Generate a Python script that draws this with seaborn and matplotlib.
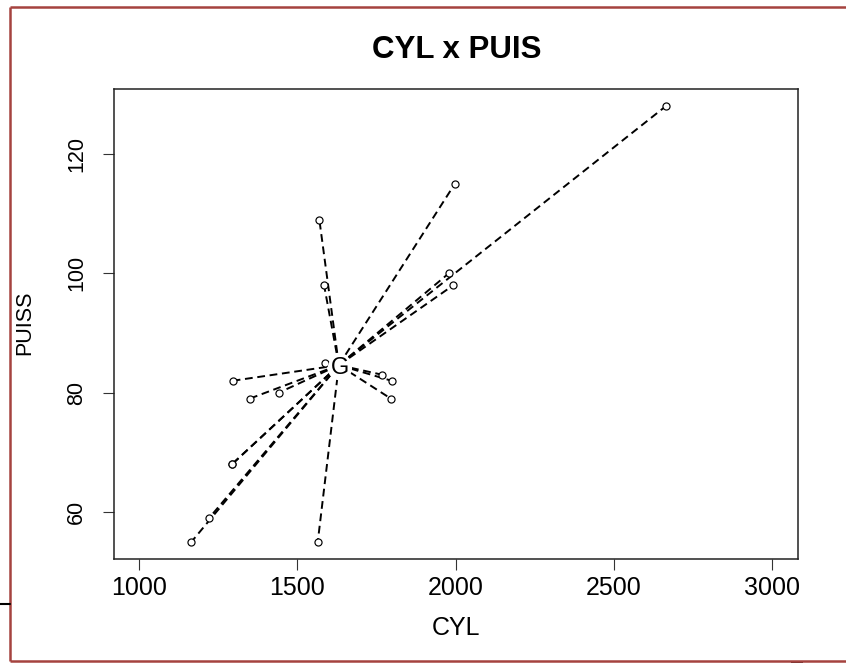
import matplotlib
matplotlib.use("Agg")
import matplotlib.pyplot as plt
import pandas as pd
import seaborn as sns
from matplotlib.lines import Line2D
from matplotlib.patches import Rectangle
from matplotlib.transforms import offset_copy

# Jeu de données "autos" : cylindrée et puissance de 18 modèles
modeles = ["Alfasud TI", "Audi 100", "Simca 1300", "Citroen GS Club", "Fiat 132",
           "Lancia Beta", "Peugeot 504", "Renault 16 TL", "Renault 30",
           "Toyota Corolla", "Alfetta 1.66", "Princess 1800", "Datsun 200L",
           "Taunus 2000", "Rancho", "Mazda 9295", "Opel Rekord", "Lada 1300"]
cyl = [1350, 1588, 1294, 1222, 1585, 1297, 1796, 1565, 2664,
       1166, 1570, 1798, 1998, 1993, 1442, 1769, 1979, 1294]
puis = [79, 85, 68, 59, 98, 82, 79, 55, 128,
        55, 109, 82, 115, 98, 80, 83, 100, 68]
x_ticks = [1000, 1500, 2000, 2500, 3000]
y_ticks = [60, 80, 100, 120]

sns.set_theme(style="white")
plt.rcParams["font.family"] = ["Liberation Sans", "DejaVu Sans"]

W, H = 846, 663
fig = plt.figure(figsize=(W / 100, H / 100), dpi=100)
ax = fig.add_axes([113.5 / W, 1 - 559.3 / H, 684 / W, 470.5 / H])

df = pd.DataFrame({"modele": modeles, "CYL": cyl, "PUISS": puis})
gx, gy = df["CYL"].mean(), df["PUISS"].mean()

# segments centre de gravité -> chaque individu
centre = pd.DataFrame({"modele": modeles, "CYL": gx, "PUISS": gy, "ordre": 0})
seg = pd.concat([centre, df.assign(ordre=1)]).sort_values(["modele", "ordre"])

sns.lineplot(data=seg, x="CYL", y="PUISS", units="modele", estimator=None,
             sort=False, color="black", lw=1.4, linestyle=(0, (4.0, 2.4)),
             ax=ax, legend=False)
sns.scatterplot(data=df, x="CYL", y="PUISS", marker="o", s=26,
                facecolor="white", edgecolor="black", linewidth=0.85, ax=ax,
                legend=False, zorder=3)
g_trans = offset_copy(ax.transData, fig=fig, x=1, y=-3, units="dots")
ax.text(gx, gy, "G", ha="center", va="center", fontsize=17, color="black",
        zorder=4, transform=g_trans,
        bbox=dict(boxstyle="circle,pad=0.05", fc="white", ec="none"))

ax.set_xlim(920, 3080)
ax.set_ylim(52.08, 130.92)
ax.set_xticks(x_ticks)
ax.set_yticks(y_ticks)

for sp in ax.spines.values():
    sp.set_visible(True)
    sp.set_color("#222222")
    sp.set_linewidth(1.1)

ax.tick_params(axis="both", direction="out", length=7.9, width=0.8,
               color="#333333", bottom=True, left=True)
ax.tick_params(axis="x", labelsize=18, pad=4.2, labelcolor="black")
ax.tick_params(axis="y", labelsize=15.5, pad=11, labelcolor="black",
               labelrotation=90)
for lab in ax.get_yticklabels():
    lab.set_va("center")

ax.set_xlabel("")
ax.set_ylabel("")
fig.text(456 / W, 1 - 628 / H, "CYL", ha="center", va="center",
         fontsize=18, color="black")
fig.text(25 / W, 1 - 323 / H, "PUISS", ha="center", va="center",
         rotation=90, fontsize=15.5, color="black")
fig.text(457 / W, 1 - 50 / H, "CYL x PUIS", ha="center", va="center",
         fontsize=22.5, fontweight="bold", color="black")

# cadre extérieur (ouvert à droite)
bord = "#a5433f"
tf = fig.transFigure
fig.add_artist(Line2D([9.7 / W, 1.0], [1 - 7.2 / H] * 2, transform=tf,
                      color=bord, lw=1.8, solid_capstyle="butt"))
fig.add_artist(Line2D([9.7 / W] * 2, [1 - 7.2 / H, 1 - 660.5 / H],
                      transform=tf, color=bord, lw=1.8, solid_capstyle="butt"))
fig.add_artist(Line2D([9.7 / W, 1.0], [1 - 660.5 / H] * 2, transform=tf,
                      color=bord, lw=1.8, solid_capstyle="butt"))
fig.add_artist(Line2D([0, 9.5 / W], [1 - 604.3 / H] * 2,
                      transform=tf, color="black", lw=1.5))
fig.add_artist(Rectangle((791 / W, 0), 12 / W, 2 / H,
                         transform=tf, color="#2a1a18", lw=0))

fig.savefig("out.png", dpi=100)
